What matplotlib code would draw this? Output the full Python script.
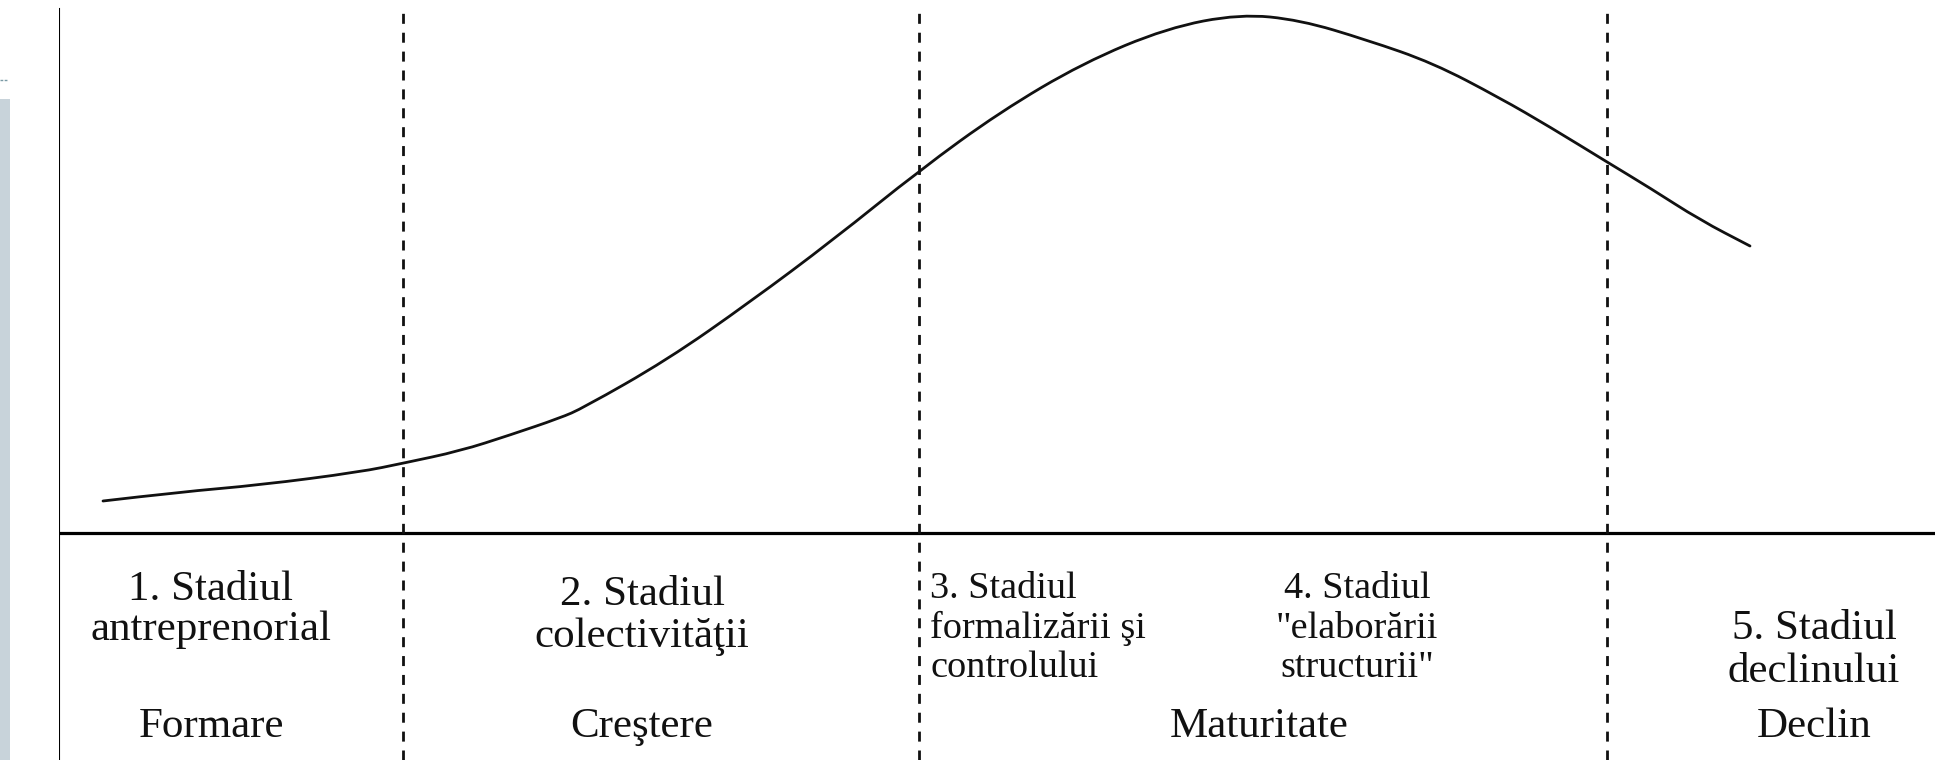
import matplotlib.pyplot as plt
from matplotlib.patches import Rectangle, PathPatch
from matplotlib.path import Path

# curba de viata a organizatiei
timp = [44, 121, 201, 301, 345, 401, 451, 501, 524, 608, 691, 774, 861, 941,
        1024, 1108, 1181, 1241, 1308, 1374, 1441, 1491, 1548, 1591, 1641, 1691]
nivel = [32, 41, 48, 61, 70, 82, 98, 115, 125, 173, 231, 293, 363, 421,
         470, 505, 519, 513, 493, 470, 435, 406, 371, 345, 313, 287]

# limitele dintre stadii
limite = [344, 860, 1548]

stadii = [["1. Stadiul", "antreprenorial"],
          ["2. Stadiul", "colectivităţii"],
          ["3. Stadiul", "formalizării şi", "controlului"],
          ["4. Stadiul", "\"elaborării", "structurii\""],
          ["5. Stadiul", "declinului"]]
stadii_x = [152, 583, 871, 1298, 1755]
stadii_y = [-67, -72, -65, -65, -106]
stadii_pas = [40, 42, 39.5, 39.5, 43]
stadii_ha = ["center", "center", "left", "center", "center"]
stadii_size = [31, 31, 27.5, 27.5, 31]

faze = ["Formare", "Creştere", "Maturitate", "Declin"]
faze_x = [153, 583, 1200, 1755]
faze_y = -204

W, H = 1935, 760
x0, y0 = 59, 533   # originea axelor in pixeli

fig = plt.figure(figsize=(W / 100, H / 100), dpi=100)
ax = fig.add_axes([x0 / W, 0, 1 - x0 / W, 1])
ax.set_xlim(0, W - x0)
ax.set_ylim(y0 - H, y0)
ax.axis('off')

# axele
ax.axhline(0, color='black', lw=2.3)
ax.axvline(0, ymax=(H - 9) / H, color='black', lw=1.5)

# liniile punctate
for x in limite:
    ax.axvline(x, ymax=(H - 13) / H, color='#111111', lw=2.0,
               dashes=(3.6, 3.2))

# curba, netezita cu segmente Bezier prin punctele citite
verts = [(timp[0], nivel[0])]
codes = [Path.MOVETO]
for i in range(1, len(timp) - 1):
    verts.append((timp[i], nivel[i]))
    verts.append(((timp[i] + timp[i + 1]) / 2, (nivel[i] + nivel[i + 1]) / 2))
    codes += [Path.CURVE3, Path.CURVE3]
verts.append((timp[-1], nivel[-1]))
codes.append(Path.LINETO)
ax.add_patch(PathPatch(Path(verts, codes), facecolor='none',
                       edgecolor='#111111', lw=2.0, capstyle='round'))

for lines, x, y, step, ha, fs in zip(stadii, stadii_x, stadii_y, stadii_pas,
                                     stadii_ha, stadii_size):
    for i, s in enumerate(lines):
        ax.text(x, y - i * step, s, ha=ha, va='baseline', fontsize=fs,
                family='Liberation Serif', color='#111111')

for s, x in zip(faze, faze_x):
    ax.text(x, faze_y, s, ha='center', va='baseline', fontsize=31,
            family='Liberation Serif', color='#111111')

# banda gri din stanga (margine de slide)
fig.add_artist(Rectangle((0, 0), 10 / W, (H - 99) / H, transform=fig.transFigure,
                         facecolor='#c8d3da', edgecolor='none'))
fig.add_artist(plt.Line2D([0, 8 / W], [1 - 80 / H, 1 - 80 / H],
                          transform=fig.transFigure, color='#7a9aa5', lw=1,
                          dashes=(2, 1)))

fig.savefig('out.png', dpi=100)
